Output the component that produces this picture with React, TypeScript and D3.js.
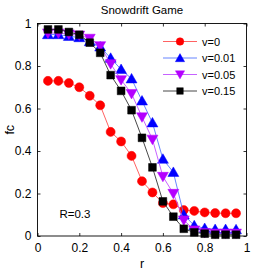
import * as d3 from "d3";
import { useEffect, useRef } from "react";

const rValues = [0.05, 0.1, 0.15, 0.2, 0.25, 0.3, 0.35, 0.4, 0.45, 0.5, 0.55, 0.6, 0.65, 0.7, 0.75, 0.8, 0.85, 0.9, 0.95];

const fcV0 = [0.73, 0.73, 0.72, 0.7, 0.66, 0.615, 0.49, 0.445, 0.377, 0.258, 0.205, 0.155, 0.149, 0.122, 0.118, 0.111, 0.108, 0.107, 0.107];
const fcV001 = [0.948, 0.948, 0.94, 0.934, 0.915, 0.89, 0.837, 0.784, 0.74, 0.636, 0.533, 0.362, 0.3, 0.1, 0.049, 0.036, 0.031, 0.031, 0.03];
const fcV005 = [0.955, 0.955, 0.95, 0.945, 0.93, 0.895, 0.81, 0.735, 0.67, 0.56, 0.455, 0.28, 0.2, 0.075, 0.028, 0.016, 0.013, 0.013, 0.013];
const fcV015 = [0.972, 0.972, 0.96, 0.947, 0.91, 0.862, 0.757, 0.683, 0.592, 0.462, 0.323, 0.163, 0.091, 0.034, 0.017, 0.011, 0.006, 0.006, 0.006];

const seriesNames = ["v=0", "v=0.01", "v=0.05", "v=0.15"];
const xTicks = [0, 0.2, 0.4, 0.6, 0.8, 1];
const yTicks = [0, 0.2, 0.4, 0.6, 0.8, 1];

const App = () => {
    const svgRef = useRef<SVGSVGElement>(null);

    useEffect(() => {
        const width = 273;
        const height = 273;
        const margin = { top: 23.5, right: 26.5, bottom: 37, left: 37.5 };
        const innerWidth = width - margin.left - margin.right;
        const innerHeight = height - margin.top - margin.bottom;
        const font = "Liberation Sans, Arial, sans-serif";

        const svg = d3.select(svgRef.current).attr("width", width).attr("height", height);
        svg.selectAll("*").remove();

        svg.append("rect").attr("width", width).attr("height", height).attr("fill", "#fff");

        const g = svg.append("g").attr("transform", `translate(${margin.left},${margin.top})`);

        const xScale = d3.scaleLinear().domain([0, 1]).range([0, innerWidth]);
        const yScale = d3.scaleLinear().domain([0, 1]).range([innerHeight, 0]);

        // axes with inward ticks on all four sides
        const tick = 3;
        const styleAxis = (sel: any) => {
            sel.select(".domain").remove();
            sel.selectAll("line").attr("stroke", "#000").attr("stroke-width", 0.8);
            sel.selectAll("text").attr("font-family", font).attr("font-size", 12).attr("fill", "#000");
        };
        g.append("g")
            .attr("transform", `translate(0,${innerHeight})`)
            .call(d3.axisBottom(xScale).tickValues(xTicks).tickSize(-tick).tickPadding(7).tickFormat(d3.format("")))
            .call(styleAxis);
        g.append("g")
            .call(d3.axisLeft(yScale).tickValues(yTicks).tickSize(-tick).tickPadding(6).tickFormat(d3.format("")))
            .call(styleAxis);
        g.append("g")
            .call(d3.axisTop(xScale).tickValues(xTicks).tickSize(-tick).tickFormat(() => ""))
            .call(styleAxis);
        g.append("g")
            .attr("transform", `translate(${innerWidth},0)`)
            .call(d3.axisRight(yScale).tickValues(yTicks).tickSize(-tick).tickFormat(() => ""))
            .call(styleAxis);

        g.append("rect")
            .attr("width", innerWidth)
            .attr("height", innerHeight)
            .attr("fill", "none")
            .attr("stroke", "#000")
            .attr("stroke-width", 0.9);

        const series = [
            { name: seriesNames[0], values: fcV0, color: "#ff0000", line: "#ff5050", shape: "circle" },
            { name: seriesNames[1], values: fcV001, color: "#0000ff", line: "#5577ff", shape: "up" },
            { name: seriesNames[2], values: fcV005, color: "#b400ff", line: "#c050ff", shape: "down" },
            { name: seriesNames[3], values: fcV015, color: "#000000", line: "#333333", shape: "square" },
        ];

        const symbolFor = (shape: string) => {
            if (shape === "circle") return d3.symbol(d3.symbolCircle, 64);
            if (shape === "square") return d3.symbol(d3.symbolSquare, 60);
            return d3.symbol(d3.symbolTriangle, 52);
        };

        const line = d3
            .line<number>()
            .x((_, i) => xScale(rValues[i]))
            .y((d) => yScale(d));

        series.forEach((s) => {
            g.append("path")
                .datum(s.values)
                .attr("fill", "none")
                .attr("stroke", s.line)
                .attr("stroke-width", 0.9)
                .attr("d", line);

            g.selectAll(null)
                .data(s.values)
                .join("path")
                .attr("d", symbolFor(s.shape)())
                .attr("transform", (d, i) => `translate(${xScale(rValues[i])},${yScale(d) + (s.shape === "down" ? -1 : s.shape === "up" ? 1 : 0)}) rotate(${s.shape === "down" ? 180 : 0})`)
                .attr("fill", s.color)
                .attr("stroke", s.color)
                .attr("stroke-width", 0.5);
        });

        // legend
        const legend = g.append("g").attr("transform", `translate(${125.5},${18})`);
        series.forEach((s, i) => {
            const row = legend.append("g").attr("transform", `translate(0,${i * 16.5})`);
            row.append("line").attr("x1", 0).attr("x2", 34).attr("stroke", s.line).attr("stroke-width", 0.9);
            row.append("path")
                .attr("d", symbolFor(s.shape)())
                .attr("transform", `translate(17,${s.shape === "down" ? -1 : s.shape === "up" ? 1 : 0}) rotate(${s.shape === "down" ? 180 : 0}) scale(0.85)`)
                .attr("fill", s.color)
                .attr("stroke", s.color)
                .attr("stroke-width", 0.5);
            row.append("text")
                .attr("x", 39)
                .attr("y", 4)
                .attr("font-family", font)
                .attr("font-size", 11)
                .text(s.name);
        });

        // annotations
        g.append("text")
            .attr("x", xScale(0.105))
            .attr("y", yScale(0.085))
            .attr("font-family", font)
            .attr("font-size", 11.5)
            .text("R=0.3");

        svg.append("text")
            .attr("x", margin.left + innerWidth / 2)
            .attr("y", 14)
            .attr("text-anchor", "middle")
            .attr("font-family", font)
            .attr("font-size", 11.5)
            .text("Snowdrift Game");

        svg.append("text")
            .attr("x", margin.left + innerWidth / 2)
            .attr("y", 268)
            .attr("text-anchor", "middle")
            .attr("font-family", font)
            .attr("font-size", 12.5)
            .text("r");

        svg.append("text")
            .attr("transform", `translate(14,${margin.top + innerHeight / 2}) rotate(-90)`)
            .attr("text-anchor", "middle")
            .attr("font-family", font)
            .attr("font-size", 12.5)
            .text("fc");
    }, []);

    return <svg ref={svgRef} style={{ position: "absolute", left: 0, top: 0, display: "block" }} />;
};

export default App;
